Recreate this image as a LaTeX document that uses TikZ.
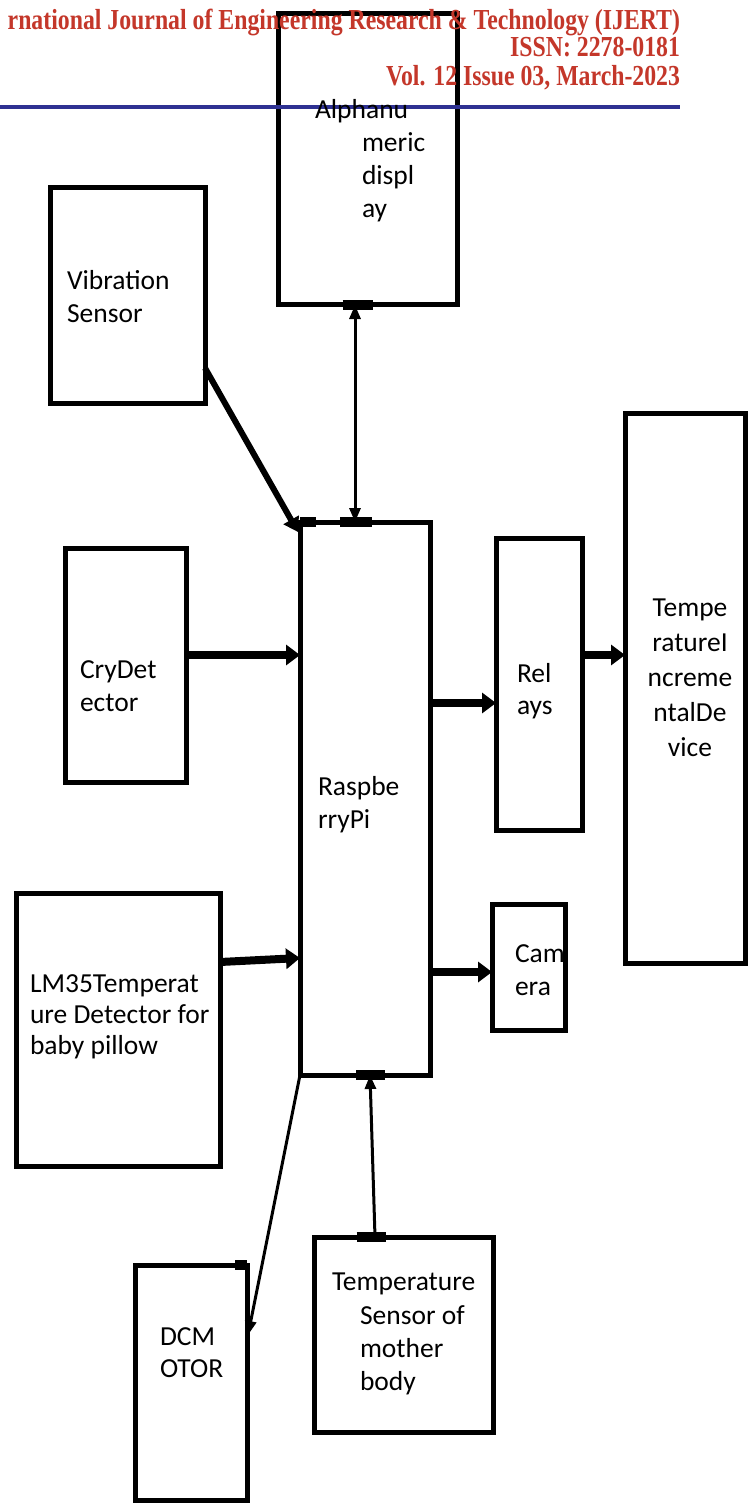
\documentclass[tikz,border=0pt]{standalone}
\usepackage{fontspec}
\usepackage{graphicx}
\setmainfont{Carlito}
\newfontfamily\hdrfont{Liberation Serif}
\usetikzlibrary{arrows.meta,calc}
\definecolor{hdrred}{RGB}{196,55,42}
\definecolor{hdrblue}{RGB}{46,49,146}
\tikzset{
  box/.style={draw=black,line width=5pt,inner sep=0pt,outer sep=0pt,fill=none},
  lbl/.style={inner sep=0pt,outer sep=0pt,anchor=base west,font=\fontsize{27.5}{33}\selectfont},
  clbl/.style={inner sep=0pt,outer sep=0pt,anchor=base,font=\fontsize{27.5}{33}\selectfont},
  hdr/.style={inner sep=0pt,outer sep=0pt,anchor=base east,text=hdrred,font=\hdrfont\bfseries\fontsize{29}{32}\selectfont},
  thickarr/.style={line width=8pt,-{Triangle[length=14pt,width=20pt]}},
  thinarr/.style={line width=3pt,-{Triangle[length=14pt,width=11pt]}},
  dblarr/.style={line width=3pt,{Triangle[length=14pt,width=11pt]}-{Triangle[length=14pt,width=11pt]}},
  stub/.style={line width=10pt}
}
\begin{document}
\begin{tikzpicture}[x=1pt,y=-1pt]
\useasboundingbox (0,0) rectangle (748,1503);
\fill[white] (0,0) rectangle (748,1503);

% boxes
\node[box,minimum width=179pt,minimum height=291pt] (alpha) at (367.5,159.5) {};
\node[box,minimum width=155pt,minimum height=215pt] (vib) at (127.5,295.5) {};
\node[box,minimum width=121pt,minimum height=234pt] (cry) at (125.5,665) {};
\node[box,minimum width=130pt,minimum height=553pt] (rpi) at (365,798.5) {};
\node[box,minimum width=86pt,minimum height=292pt] (rel) at (539,684) {};
\node[box,minimum width=120pt,minimum height=550pt] (tinc) at (685,688) {};
\node[box,minimum width=73pt,minimum height=126pt] (cam) at (528.5,967) {};
\node[box,minimum width=204pt,minimum height=273pt] (lm) at (118,1029.5) {};
\node[box,minimum width=112pt,minimum height=235pt] (dcm) at (191,1382.5) {};
\node[box,minimum width=179pt,minimum height=195pt] (tsm) at (403.5,1334.5) {};

% connection stubs
\draw[stub] ($(alpha.south)+(-25,0)$) -- ($(alpha.south)+(5,0)$);
\draw[stub] ($(rpi.north west)+(0,0)$) -- ($(rpi.north west)+(16,0)$);
\draw[stub] ($(rpi.north)+(-25,0)$) -- ($(rpi.north)+(7,0)$);
\draw[stub] ($(rpi.south)+(-9,0)$) -- ($(rpi.south)+(20,0)$);
\draw[stub] ($(tsm.north)+(-47,0)$) -- ($(tsm.north)+(-18,0)$);
\draw[stub] ($(dcm.north east)+(-12,0)$) -- ($(dcm.north east)+(0,0)$);

% header
\node[hdr] (h1) at (680,30) {\scalebox{0.82}[1]{rnational Journal of Engineering Research \& Technology (IJERT)}};
\node[hdr] (h2) at (680,57) {\scalebox{0.82}[1]{ISSN: 2278-0181}};
\node[hdr] (h3) at (680,86) {\scalebox{0.82}[1]{Vol. 12 Issue 03, March-2023}};
\draw[hdrblue,line width=4pt] (0,107) -- (680,107);

% texts
\node[lbl] (a1) at (315,119) {Alphanu};
\node[lbl] (a2) at (362,152) {meric};
\node[lbl] (a3) at (362,185) {displ};
\node[lbl] (a4) at (362,218) {ay};

\node[lbl] (v1) at (67,290) {Vibration};
\node[lbl] (v2) at (67,323) {Sensor};

\node[lbl] (c1) at (80,678) {CryDet};
\node[lbl] (c2) at (80,711) {ector};

\node[lbl] (r1) at (318,795) {Raspbe};
\node[lbl] (r2) at (318,828) {rryPi};

\node[lbl] (l1) at (517,682) {Rel};
\node[lbl] (l2) at (517,714) {ays};

\node[clbl] (t1) at (690,616) {Tempe};
\node[clbl] (t2) at (690,651) {ratureI};
\node[clbl] (t3) at (690,686) {ncreme};
\node[clbl] (t4) at (690,721) {ntalDe};
\node[clbl] (t5) at (690,756) {vice};

\node[lbl] (k1) at (515,962) {Cam};
\node[lbl] (k2) at (515,995) {era};

\node[lbl] (m1) at (30,992) {LM35Temperat};
\node[lbl] (m2) at (30,1023) {ure Detector for};
\node[lbl] (m3) at (30,1054) {baby pillow};

\node[lbl] (d1) at (160,1345) {DCM};
\node[lbl] (d2) at (160,1377) {OTOR};

\node[lbl] (s1) at (332,1290) {Temperature};
\node[lbl] (s2) at (360,1324) {Sensor of};
\node[lbl] (s3) at (360,1357) {mother};
\node[lbl] (s4) at (360,1390) {body};

% connectors
\draw[line width=6pt,-{Triangle[length=14pt,width=17pt]}] ($(vib.south east)+(0,-35)$) -- ($(rpi.north west)+(-2,10)$);
\draw[dblarr] ($(alpha.south)+(-12.5,0)$) -- ($(rpi.north)+(-10,0)$);
\draw[thickarr] ($(cry.east)+(0,-10)$) -- ($(rpi.west)+(0,-143.5)$);
\draw[thickarr] ($(lm.east)+(0,-67.5)$) -- ($(rpi.west)+(0,159.5)$);
\draw[thickarr] ($(rpi.east)+(0,-95.5)$) -- ($(rel.west)+(0,19)$);
\draw[thickarr] ($(rel.east)+(0,-29)$) -- ($(tinc.west)+(0,-33)$);
\draw[thickarr] ($(rpi.east)+(0,173.5)$) -- ($(cam.west)+(0,5)$);
\draw[thinarr] (rpi.south west) -- ($(dcm.north east)+(1,70)$);
\draw[thinarr] ($(tsm.north)+(-28.5,0)$) -- ($(rpi.south)+(5,0)$);
\end{tikzpicture}
\end{document}
